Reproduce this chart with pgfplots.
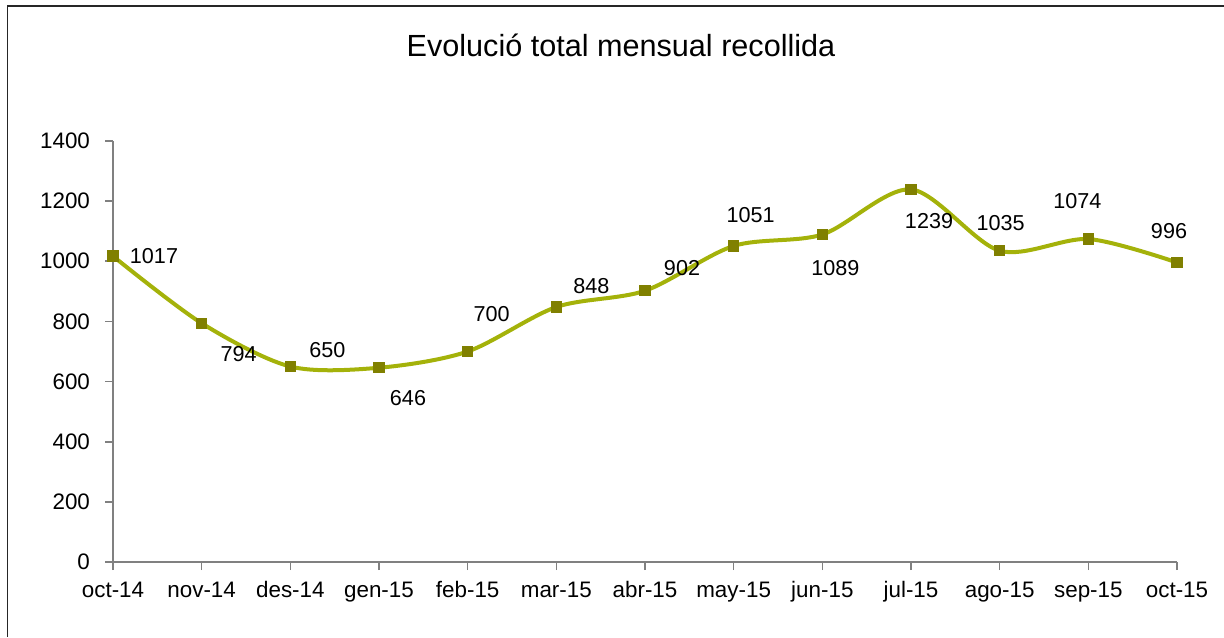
\documentclass[border=0pt]{standalone}
\usepackage{fontspec}
\setmainfont{Liberation Sans}
\usepackage{pgfplots}
\usepackage{pgfplotstable}
\pgfplotsset{compat=1.18}
\definecolor{linegreen}{HTML}{A4B20A}
\definecolor{markolive}{HTML}{808000}
\definecolor{axisgray}{HTML}{808080}

% month, value, label offset (pt)
\pgfplotstableread{
x y dx dy
0 1017 20.5 0
1 794 18.5 -15.5
2 650 18.5 8
3 646 14.5 -15
4 700 12 18.5
5 848 17.5 10.5
6 902 18.5 11.5
7 1051 8.5 15.5
8 1089 6.5 -17
9 1239 9 -16
10 1035 0.5 14
11 1074 -5.5 19
12 996 -4 15.5
}\recollida

\begin{document}
\begin{tikzpicture}
\path[use as bounding box] (0,0) rectangle (612pt,318.5pt);
\draw[line width=0.6pt, black!85] (3.75pt,0) -- (3.75pt,315.5pt) -- (612pt,315.5pt);
\node[font=\fontsize{15.3}{18}\selectfont, anchor=base] at (310.5pt,290pt) {Evolució total mensual recollida};
\begin{axis}[
  at={(56.5pt,37.5pt)}, anchor=south west,
  scale only axis,
  width=532pt, height=210.5pt,
  xmin=0, xmax=12, ymin=0, ymax=1400,
  axis x line=bottom, axis y line=left,
  axis line style={draw=axisgray, line width=0.8pt, -},
  xtick={0,...,12},
  xticklabels={oct-14,nov-14,des-14,gen-15,feb-15,mar-15,abr-15,may-15,jun-15,jul-15,ago-15,sep-15,oct-15},
  ytick={0,200,...,1400},
  tick align=outside,
  major tick length=4pt,
  tick style={draw=axisgray, line width=0.8pt},
  ticklabel style={font=\fontsize{11.2}{13}\selectfont},
  /pgf/number format/assume math mode=true,
  /pgf/number format/1000 sep={},
  yticklabel style={xshift=-4pt},
  xticklabel style={anchor=north, yshift=-2pt, text height=1.6ex, text depth=0.4ex},
  clip=false,
]
\addplot[
  color=linegreen, line width=2pt, smooth, tension=0.5,
  mark=square*, mark size=2.6pt,
  mark options={fill=markolive, draw=markolive, line width=0pt},
  point meta=\thisrow{y},
  visualization depends on={\thisrow{dx} \as \dx},
  visualization depends on={\thisrow{dy} \as \dy},
  nodes near coords={\pgfmathprintnumber[fixed,precision=0,1000 sep={}]{\pgfplotspointmeta}},
  nodes near coords style={anchor=center, xshift=\dx pt, yshift=\dy pt,
    font=\fontsize{10.8}{12}\selectfont, text=black},
] table[x=x, y=y] {\recollida};
\end{axis}
\end{tikzpicture}
\end{document}
